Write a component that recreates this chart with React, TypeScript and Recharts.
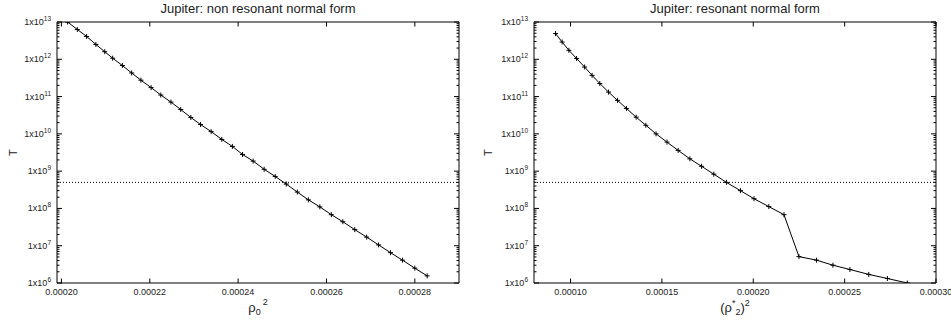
import React from "react"
import { LineChart, Line, XAxis, YAxis, ReferenceLine } from "recharts"

// T against rho_0^2, non resonant normal form
const nonResRho2 = [
  0.0002014, 0.0002036, 0.0002057, 0.0002078, 0.0002098, 0.0002116, 0.0002138, 0.0002159,
  0.000218, 0.0002203, 0.0002225, 0.0002248, 0.000227, 0.0002293, 0.0002315, 0.0002339,
  0.0002363, 0.0002387, 0.000241, 0.0002434, 0.0002459, 0.0002484, 0.0002509, 0.0002534,
  0.0002559, 0.0002585, 0.0002611, 0.0002637, 0.0002664, 0.0002691, 0.0002718, 0.0002745,
  0.0002772, 0.00028, 0.0002828,
]
const nonResT = [
  1e13, 6.3e12, 4.1e12, 2.5e12, 1.6e12, 1.07e12, 6.8e11, 4.3e11,
  2.75e11, 1.74e11, 1.1e11, 7.1e10, 4.5e10, 2.75e10, 1.78e10, 1.15e10,
  7.1e9, 4.6e9, 2.8e9, 1.86e9, 1.12e9, 7.2e8, 4.5e8, 2.75e8,
  1.7e8, 1.1e8, 6.8e7, 4.4e7, 2.7e7, 1.7e7, 1.05e7, 6.5e6,
  4.1e6, 2.5e6, 1.55e6,
]

// T against (rho*_2)^2, resonant normal form
const resRho2 = [
  0.0000918, 0.0000954, 0.0000991, 0.0001033, 0.0001077, 0.0001118, 0.000116, 0.0001208,
  0.0001257, 0.0001306, 0.0001359, 0.0001412, 0.0001468, 0.0001528, 0.0001589, 0.0001653,
  0.0001717, 0.0001784, 0.0001853, 0.000193, 0.0002004, 0.0002085, 0.0002168, 0.000225,
  0.0002346, 0.0002436, 0.0002529, 0.0002632, 0.0002734, 0.0002843,
]
const resT = [
  4.9e12, 2.9e12, 1.74e12, 1.05e12, 6.2e11, 3.7e11, 2.24e11, 1.32e11,
  7.9e10, 4.8e10, 2.8e10, 1.7e10, 1.0e10, 6.0e9, 3.6e9, 2.14e9,
  1.35e9, 8.3e8, 5.0e8, 3.0e8, 1.82e8, 1.12e8, 6.8e7, 5.1e6,
  4.1e6, 3.0e6, 2.3e6, 1.7e6, 1.32e6, 1.0e6,
]

const tLimit = 5e8
const majorT = [1e6, 1e7, 1e8, 1e9, 1e10, 1e11, 1e12, 1e13]
const minorSteps = [2, 3, 4, 5, 6, 7, 8, 9]
const nonResXTicks = [0.0002, 0.00022, 0.00024, 0.00026, 0.00028]
const resXTicks = [0.0001, 0.00015, 0.0002, 0.00025, 0.0003]

const yTicks = [
  ...majorT,
  ...majorT.slice(0, -1).flatMap((d) => minorSteps.map((m) => d * m)),
].sort((a, b) => a - b)

const FONT = "'Liberation Sans', Arial, Helvetica, sans-serif"
const INK = "#000"

const isMajor = (v: number) => {
  const e = Math.round(Math.log10(v))
  return Math.abs(v - Math.pow(10, e)) / v < 1e-6
}

const LEFT_MARGIN = 6

function YTickLeft(props: any) {
  const { x, y, payload } = props
  const v = payload.value
  const ax = x + LEFT_MARGIN
  const major = isMajor(v)
  const exp = Math.round(Math.log10(v))
  return (
    <g>
      <line x1={ax} x2={ax + (major ? 5 : 2.5)} y1={y} y2={y} stroke={INK} strokeWidth={1} />
      {major && (
        <text x={x} y={y + 3} textAnchor="end" fontFamily={FONT} fontSize={9} fill="#222">
          1x10<tspan dy={-4} fontSize={6.5}>{exp}</tspan>
        </text>
      )}
    </g>
  )
}

function YTickRight(props: any) {
  const { x, y, payload } = props
  const major = isMajor(payload.value)
  return <line x1={x} x2={x - (major ? 5 : 2.5)} y1={y} y2={y} stroke={INK} strokeWidth={1} />
}

function XTickBottom(props: any) {
  const { x, y, payload } = props
  return (
    <g>
      <line x1={x} x2={x} y1={y} y2={y - 4.5} stroke={INK} strokeWidth={1} />
      <text x={x} y={y + 12} textAnchor="middle" fontFamily={FONT} fontSize={9} fill="#222">
        {payload.value.toFixed(5)}
      </text>
    </g>
  )
}

function XTickTop(props: any) {
  const { x, y } = props
  return <line x1={x} x2={x} y1={y} y2={y + 4.5} stroke={INK} strokeWidth={1} />
}

function PlusDot(props: any) {
  const { cx, cy, index } = props
  if (cx == null || cy == null) return <g key={index} />
  return (
    <path
      key={index}
      d={`M${cx - 2.5},${cy}h5M${cx},${cy - 2.5}v5`}
      stroke={INK}
      strokeWidth={1}
      fill="none"
    />
  )
}

interface PanelProps {
  width: number
  yAxisWidth: number
  rightWidth: number
  title: string
  xLabel: React.ReactNode
  xDomain: [number, number]
  xTicks: number[]
  xs: number[]
  ts: number[]
}

function Panel({ width, yAxisWidth, rightWidth, title, xLabel, xDomain, xTicks, xs, ts }: PanelProps) {
  const data = xs.map((x, i) => ({ rho2: x, T: ts[i] }))
  const axisLine = { stroke: INK, strokeWidth: 1 }

  return (
    <LineChart width={width} height={320} data={data} margin={{ top: 0, right: 0, bottom: 0, left: 0 }}>
      <XAxis
        xAxisId="b"
        dataKey="rho2"
        type="number"
        domain={xDomain}
        ticks={xTicks}
        allowDataOverflow
        interval={0}
        height={37}
        tickSize={0}
        tickMargin={0}
        axisLine={axisLine}
        tick={(p: any) => <XTickBottom {...p} />}
        label={(p: any) => {
          const vb = p.viewBox
          return (
            <text x={vb.x + vb.width / 2} y={312} textAnchor="middle" fontFamily={FONT} fontSize={13} fill="#222">
              {xLabel}
            </text>
          )
        }}
      />
      <XAxis
        xAxisId="t"
        dataKey="rho2"
        type="number"
        orientation="top"
        domain={xDomain}
        ticks={xTicks}
        allowDataOverflow
        interval={0}
        height={22}
        tickSize={0}
        tickMargin={0}
        axisLine={axisLine}
        tick={(p: any) => <XTickTop {...p} />}
        label={(p: any) => {
          const vb = p.viewBox
          return (
            <text x={vb.x + vb.width / 2} y={13} textAnchor="middle" fontFamily={FONT} fontSize={13} fill="#222">
              {title}
            </text>
          )
        }}
      />
      <YAxis
        yAxisId="l"
        scale="log"
        domain={[1e6, 1e13]}
        ticks={yTicks}
        allowDataOverflow
        interval={0}
        width={yAxisWidth}
        tickSize={0}
        tickMargin={LEFT_MARGIN}
        axisLine={axisLine}
        tick={(p: any) => <YTickLeft {...p} />}
        label={(p: any) => {
          const vb = p.viewBox
          const cx = 13
          const cy = vb.y + vb.height / 2
          return (
            <text x={cx} y={cy} transform={`rotate(-90 ${cx} ${cy})`} textAnchor="middle" dominantBaseline="central" fontFamily={FONT} fontSize={11} fill="#222">
              T
            </text>
          )
        }}
      />
      <YAxis
        yAxisId="r"
        orientation="right"
        scale="log"
        domain={[1e6, 1e13]}
        ticks={yTicks}
        allowDataOverflow
        interval={0}
        width={rightWidth}
        tickSize={0}
        tickMargin={0}
        axisLine={axisLine}
        tick={(p: any) => <YTickRight {...p} />}
      />
      <ReferenceLine xAxisId="b" yAxisId="l" y={tLimit} stroke={INK} strokeWidth={1} strokeDasharray="1 2" />
      <Line
        xAxisId="b"
        yAxisId="l"
        type="linear"
        dataKey="T"
        stroke={INK}
        strokeWidth={1}
        dot={(p: any) => <PlusDot {...p} />}
        activeDot={false}
        isAnimationActive={false}
      />
    </LineChart>
  )
}

export default function App() {
  return (
    <div style={{ position: "absolute", left: 0, top: 0, width: 951, height: 320, display: "flex", background: "#fff", overflow: "hidden" }}>
      <Panel
        width={475}
        yAxisWidth={57}
        rightWidth={16}
        title="Jupiter: non resonant normal form"
        xLabel={
          <>
            ρ<tspan fontSize={9} dy={3}>0</tspan>
            <tspan fontSize={9} dx={2} dy={-10}>2</tspan>
          </>
        }
        xDomain={[0.000199, 0.00029]}
        xTicks={nonResXTicks}
        xs={nonResRho2}
        ts={nonResT}
      />
      <Panel
        width={476}
        yAxisWidth={59}
        rightWidth={15}
        title="Jupiter: resonant normal form"
        xLabel={
          <>
            (ρ<tspan fontSize={9} dy={-6}>*</tspan>
            <tspan fontSize={9} dy={9}>2</tspan>
            <tspan dy={-3}>)</tspan>
            <tspan fontSize={9} dy={-6}>2</tspan>
          </>
        }
        xDomain={[0.00008, 0.0003]}
        xTicks={resXTicks}
        xs={resRho2}
        ts={resT}
      />
    </div>
  )
}
